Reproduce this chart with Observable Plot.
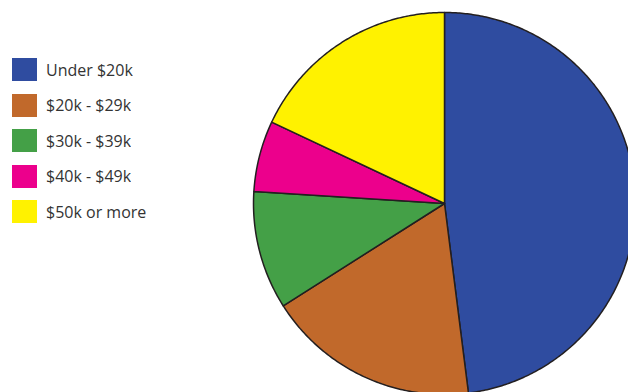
<!DOCTYPE html>
<html>
<head>
<meta charset="utf-8">
<script src="https://cdn.jsdelivr.net/npm/d3@7"></script>
<script src="https://cdn.jsdelivr.net/npm/@observablehq/plot@0.6"></script>
<style>
  html, body { margin: 0; padding: 0; background: #fff; }
  #wrap { position: relative; width: 628px; height: 392px; overflow: hidden; }
  #chart { position: absolute; left: 0; top: 0; }
  #legend { position: absolute; left: 12px; top: 58px; }
  #legend .inc-swatches { font-family: "Open Sans", sans-serif; font-size: 16px; color: #333; margin: 0 !important; }
  #legend .inc-swatch { padding-bottom: 12.5px !important; align-items: center; }
  #legend .inc-swatch svg { margin-right: 9px !important; }
</style>
</head>
<body>
<div id="wrap"><div id="chart"></div><div id="legend"></div></div>
<script>
const categories = ["Under $20k", "$20k - $29k", "$30k - $39k", "$40k - $49k", "$50k or more"];
const shares = [48, 18, 10, 6, 18];
const colors = ["#2f4ca0", "#c1692b", "#44a047", "#ec008c", "#fff200"];

const slices = categories.map((c, i) => ({category: c, value: shares[i]}));
const arcs = d3.pie().sort(null).value(d => d.value)(slices);

// polygon outline for each slice: center -> arc samples -> center
const pts = [];
for (const a of arcs) {
  const cat = a.data.category;
  pts.push({category: cat, x: 0, y: 0});
  const n = Math.max(2, Math.ceil((a.endAngle - a.startAngle) / 0.01));
  for (let k = 0; k <= n; k++) {
    const t = a.startAngle + (a.endAngle - a.startAngle) * k / n;
    pts.push({category: cat, x: Math.sin(t), y: Math.cos(t)});
  }
  pts.push({category: cat, x: 0, y: 0});
}

const colorScale = {domain: categories, range: colors};

const chart = Plot.plot({
  width: 628,
  height: 392,
  margin: 0,
  x: {domain: [-1, 1], range: [253, 635], axis: null},
  y: {domain: [-1, 1], range: [394, 12], axis: null},
  color: colorScale,
  marks: [
    Plot.line(pts, {x: "x", y: "y", z: "category", fill: "category", stroke: "#231f20", strokeWidth: 1.5, strokeLinejoin: "round", curve: "linear"})
  ]
});
document.getElementById("chart").appendChild(chart);

const legend = Plot.legend({
  color: {...colorScale, type: "ordinal"},
  legend: "swatches",
  columns: 1,
  swatchWidth: 25,
  swatchHeight: 23,
  className: "inc"
});
document.getElementById("legend").appendChild(legend);
</script>
</body>
</html>
